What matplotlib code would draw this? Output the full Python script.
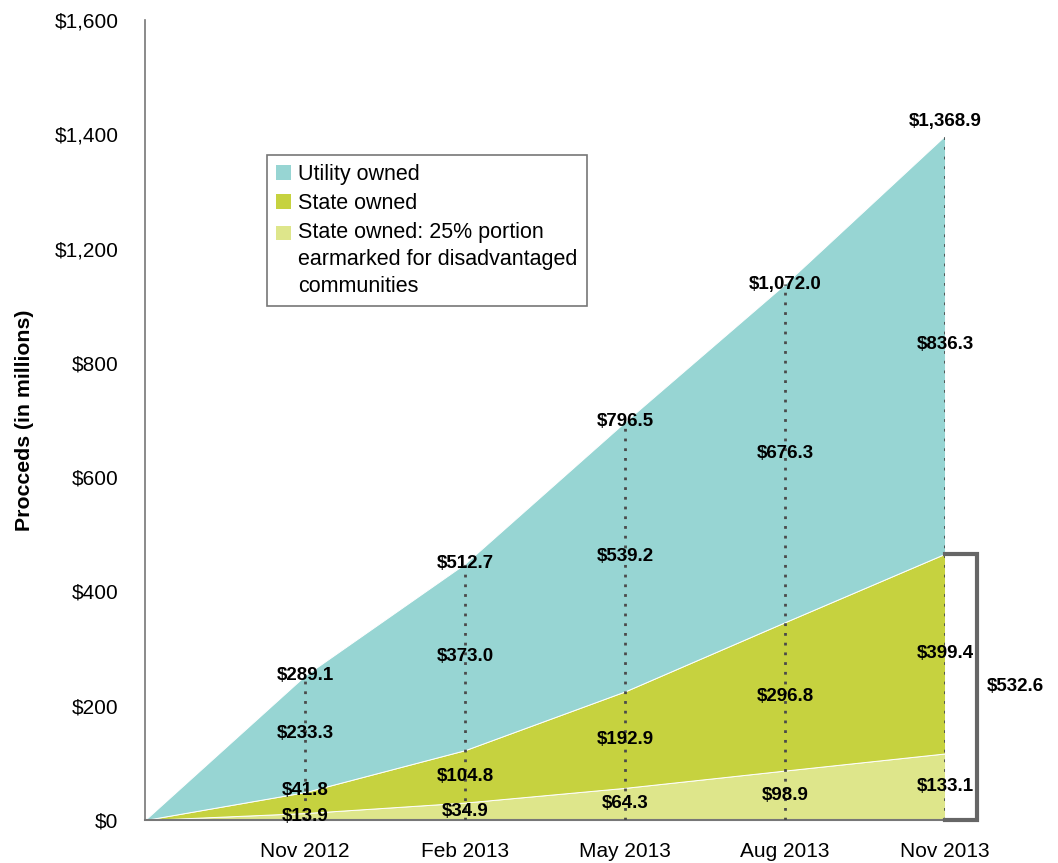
import numpy as np
import matplotlib.pyplot as plt
from matplotlib.patches import Patch, Rectangle
from matplotlib.legend_handler import HandlerPatch

plt.rcParams['font.family'] = ['Liberation Sans', 'DejaVu Sans']

# ---- data ----
dates = ["", "Nov 2012", "Feb 2013", "May 2013", "Aug 2013", "Nov 2013"]
earmarked = [0, 13.9, 34.9, 64.3, 98.9, 133.1]
state_rest = [0, 41.8, 104.8, 192.9, 296.8, 399.4]
utility = [0, 233.3, 373.0, 539.2, 676.3, 836.3]
totals = ["", "$289.1", "$512.7", "$796.5", "$1,072.0", "$1,368.9"]
state_total = "$532.6"
ytick_labels = ["$0", "$200", "$400", "$600", "$800", "$1,200", "$1,400", "$1,600"]
legend_labels = ["Utility owned", "State owned",
                 "State owned: 25% portion\nearmarked for disadvantaged\ncommunities"]

c_util = "#97D5D3"
c_state = "#C6D23F"
c_light = "#DEE68B"

x = np.arange(len(dates))
e = np.array(earmarked)
s = np.array(state_rest)
u = np.array(utility)
top = e + s + u

fig = plt.figure(figsize=(10.58, 8.63), dpi=100)
ax = fig.add_axes([145/1058, 1-820/863, 800/1058, 800/863])

ax.stackplot(x, e, s, u, colors=[c_light, c_state, c_util],
             edgecolor="white", linewidth=0.7)

ax.set_xlim(0, 5)
ax.set_ylim(0, 1600)

# dotted guide lines
for i in range(1, len(x)):
    ax.plot([x[i], x[i]], [0, top[i]], color="#4a4a4a", linestyle=(0, (1, 2.5)), lw=2, zorder=3)

# segment labels
lbl = dict(ha="center", va="center", fontsize=13.5, fontweight="bold", zorder=4)
for i in range(1, len(x)):
    ax.text(x[i], e[i]/2, "$%.1f" % e[i], **lbl)
    yoff = 9 if i == 1 else 0
    ax.annotate("$%.1f" % s[i], (x[i], e[i] + s[i]/2), xytext=(0, yoff),
                textcoords="offset points", **lbl)
    ax.text(x[i], e[i] + s[i] + u[i]/2, "$%.1f" % u[i], **lbl)
    toff = 10 if i == len(x) - 1 else 0
    ax.annotate(totals[i], (x[i], top[i]), xytext=(0, toff),
                textcoords="offset points", **lbl)

# bracket for state-owned total
st = e[-1] + s[-1]
ax.plot([5, 5.2, 5.2, 5], [st, st, 0, 0], color="#666666", lw=3,
        clip_on=False, solid_joinstyle="miter", zorder=5)
ax.text(5.44, st/2, state_total, ha="center", va="center",
        fontsize=13.5, fontweight="bold")

# axes styling
ax.set_yticks(np.linspace(0, 1600, len(ytick_labels)))
ax.set_yticklabels(ytick_labels, fontsize=15)
ax.set_xticks(x[1:])
ax.set_xticklabels(dates[1:], fontsize=15)
ax.tick_params(length=0)
ax.tick_params(axis="y", pad=19)
ax.tick_params(axis="x", pad=16)
for side in ["top", "right"]:
    ax.spines[side].set_visible(False)
ax.spines["left"].set_color("#777777")
ax.spines["bottom"].set_color("#777777")
ax.spines["left"].set_linewidth(1.2)
ax.spines["bottom"].set_linewidth(1.5)

ax.set_ylabel("Procceds (in millions)", fontsize=15.3, fontweight="bold", labelpad=15)


# legend: square swatch aligned with first line of a multi-line label
class TopSwatch(HandlerPatch):
    def __init__(self, shift, **kw):
        super().__init__(**kw)
        self.shift = shift

    def create_artists(self, legend, orig_handle, xdescent, ydescent,
                       width, height, fontsize, trans):
        r = Rectangle((-xdescent, -ydescent + self.shift), width, height,
                      facecolor=orig_handle.get_facecolor(), edgecolor="none",
                      transform=trans)
        return [r]


handles = [Patch(facecolor=c, edgecolor="none") for c in [c_util, c_state, c_light]]
leg = fig.legend(handles, legend_labels, loc="upper left",
                 bbox_to_anchor=(267/1058, 1-155/863), borderaxespad=0,
                 fontsize=15.5, fancybox=False, edgecolor="#777777", framealpha=1,
                 handlelength=0.68, handleheight=0.68, handletextpad=0.35,
                 labelspacing=0.36, borderpad=0.42,
                 handler_map={handles[2]: TopSwatch(19.4)})
leg.get_frame().set_linewidth(1.2)
for t in leg.get_texts():
    t.set_linespacing(1.4)

fig.savefig("out.png", dpi=100)
